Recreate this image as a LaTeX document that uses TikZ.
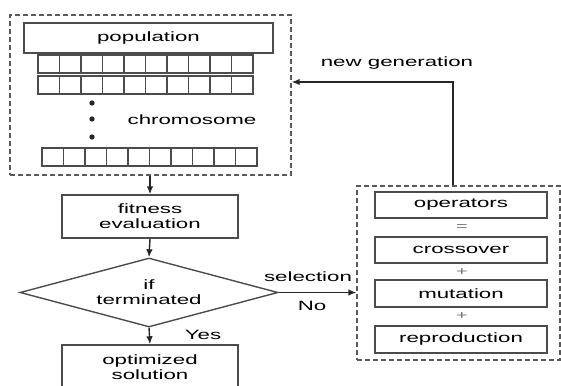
\documentclass[tikz,border=0pt]{standalone}
\usepackage{fontspec}
\newfontfamily\gafont{Liberation Sans}[FakeStretch=1.65]
\usetikzlibrary{shapes.geometric,arrows.meta}

\tikzset{
  box/.style={draw=black!70, line width=1.4pt, inner sep=0pt, align=center},
  group/.style={draw=black!65, line width=1.3pt, dash pattern=on 5pt off 3pt},
  cell/.style={draw=black!70, line width=1.3pt},
  flow/.style={->, draw=black!85, line width=1.4pt},
  joiner/.style={text=black!55, font=\gafont\fontsize{12}{12}\selectfont}
}

\begin{document}
\begin{tikzpicture}[x=1pt, y=-1pt, >={Latex[length=8pt,width=6.5pt]},
  font=\gafont\fontsize{13.5}{15}\selectfont]
    \useasboundingbox (0,0) rectangle (561,385);
    \clip (0,0) rectangle (561,385);

    % population of chromosomes
    \node[group, minimum width=281, minimum height=160] (pool) at (150.5,95) {};
    \node[box, minimum width=249, minimum height=30] (population) at (148.5,38) {population};

    \foreach \y/\x in {55/38, 76/38, 148/42} {
        \draw[cell] (\x,\y) rectangle ++(215,18);
        \foreach \i in {1,...,9}
            \draw[cell] (\x+\i*21.5,\y) -- ++(0,18);
    }
    \foreach \y in {103,119,137}
        \fill[black!85] (92,\y) circle (2.7);
    \node (chromosome) at (192,120) {chromosome};

    % main loop
    \node[box, minimum width=176, minimum height=43] (fitness) at (150,216.5) {fitness\\evaluation};
    \node[draw=black!70, line width=1.4pt, diamond, aspect=3.74, minimum width=258,
          minimum height=69, inner sep=0pt, align=center] (term) at (149,292.5) {if\\terminated};
    \node[box, minimum width=176, minimum height=44] (solution) at (150,367) {optimized\\solution};

    \draw[flow] (pool.south -| fitness) -- (fitness.north);
    \draw[flow] (fitness.south) -- (term.north);
    \draw[flow] (term.south) -- (solution.north);
    \node (yes) at (203,335) {Yes};

    % genetic operators
    \node[group, minimum width=203, minimum height=174] (ops) at (458.5,273) {};
    \node[box, minimum width=172, minimum height=26] (operators) at (461,205) {operators};
    \node[box, minimum width=172, minimum height=26] (crossover) at (461,250) {crossover};
    \node[box, minimum width=172, minimum height=27] (mutation) at (461,293.5) {mutation};
    \node[box, minimum width=172, minimum height=27] (reproduction) at (461,339.5) {reproduction};
    \node[joiner] (eq) at (462,228) {=};
    \node[joiner] (plusa) at (462,272) {+};
    \node[joiner] (plusb) at (462,316) {+};

    \draw[flow] (term.east) -- (term.east -| ops.west);
    \node (selection) at (308,277) {selection};
    \node (no) at (312,306) {No};

    \coordinate (turn) at (453,82);
    \draw[flow] (ops.north -| turn) -- (turn) -- (turn -| pool.east);
    \node (newgen) at (397,63) {new generation};
\end{tikzpicture}
\end{document}
